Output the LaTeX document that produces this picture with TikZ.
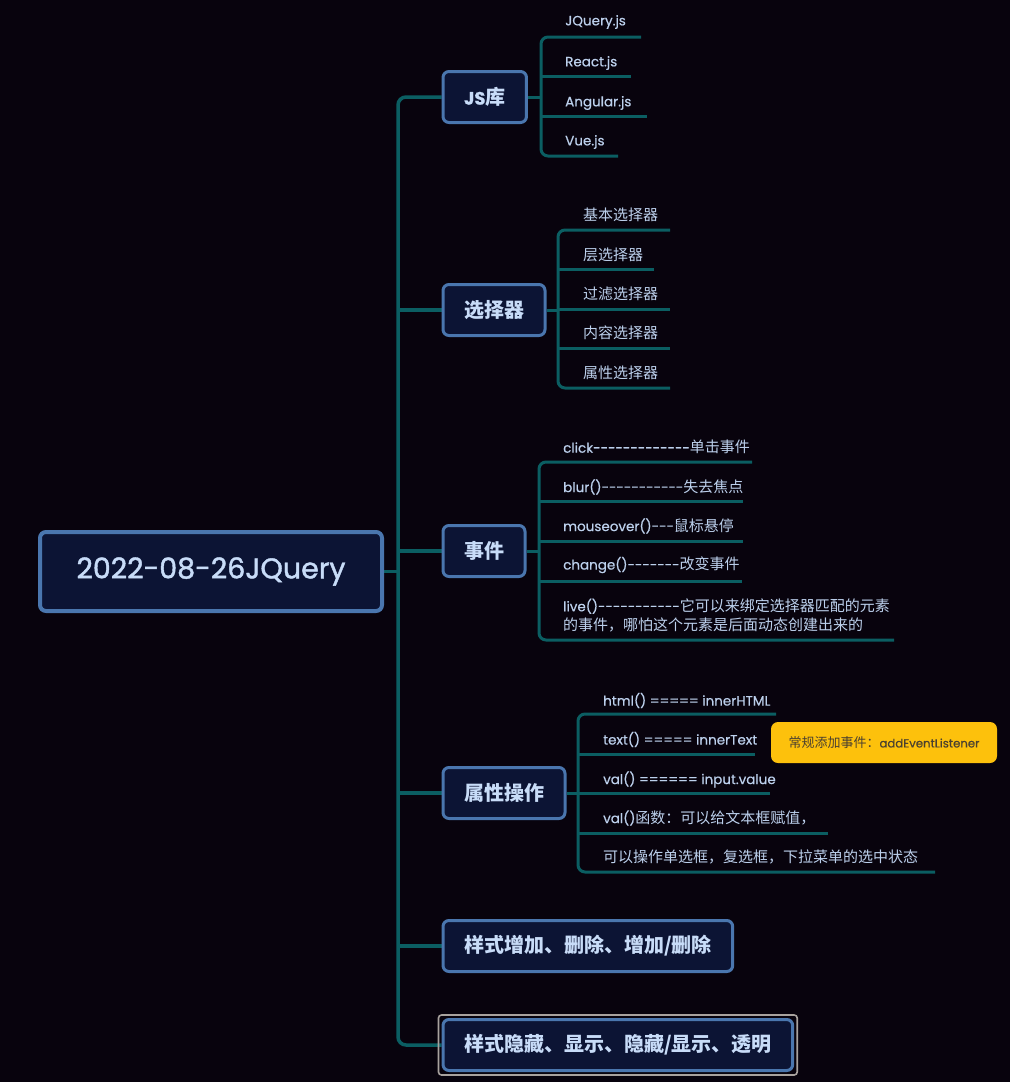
\documentclass[tikz,border=0pt]{standalone}
\usepackage{fontspec}
\setmainfont{Noto Sans CJK SC}[Ligatures=TeXOff]
\newfontfamily\lat{Poppins}[Ligatures=TeXOff, Scale=0.9, FakeBold=0.5]
\newfontfamily\latroot{Poppins}[Ligatures=TeXOff, FakeBold=1.4]
\usetikzlibrary{fit,backgrounds}
\definecolor{bg}{HTML}{08030D}
\definecolor{teal}{HTML}{0B5E62}
\definecolor{boxfill}{HTML}{0C1434}
\definecolor{boxborder}{HTML}{4A76AE}
\definecolor{txt}{HTML}{C8DCF8}
\definecolor{leaftxt}{HTML}{BCD0EC}
\definecolor{amber}{HTML}{FDC10C}
\definecolor{amtxt}{HTML}{4A4030}
\definecolor{selgray}{HTML}{A8A29E}
\tikzset{
  rootbox/.style={draw=boxborder, line width=4pt, fill=boxfill, rounded corners=6pt,
    minimum width=342, minimum height=79, text=txt, inner sep=0pt,
    font=\latroot\fontsize{28.5}{32}\selectfont},
  topic/.style={draw=boxborder, line width=3pt, fill=boxfill, rounded corners=6pt,
    minimum height=51, inner xsep=21pt, text=txt, anchor=west,
    font=\bfseries\fontsize{20}{24}\selectfont},
  leaf/.style={anchor=west, inner sep=0pt, text=leaftxt, align=left,
    font=\fontsize{15}{19.5}\selectfont},
  branch/.style={draw=teal, line width=3pt},
  trunkline/.style={draw=teal, line width=3.5pt},
  callout/.style={fill=amber, rounded corners=7pt, minimum width=226, minimum height=41,
    text=amtxt, inner sep=0pt, font=\fontsize{13}{16}\selectfont},
  selframe/.style={draw=selgray, line width=1.6pt, rounded corners=3pt, inner sep=3pt}
}
\begin{document}
\begin{tikzpicture}[x=1pt,y=-1pt]
\useasboundingbox (0,0) rectangle (1010,1082);
% root and topics
\node[rootbox] (root) at (211,571.5) {2022-08-26JQuery};
\coordinate (trunk) at (398,571.5);
\node[topic] (js) at (441.5,97) {{\lat\bfseries JS}库};
\node[topic] (sel) at (441.5,310) {选择器};
\node[topic] (evt) at (441.5,551) {事件};
\node[topic] (attr) at (441.5,793) {属性操作};
\node[topic] (sty1) at (441.5,946) {样式增加、删除、增加/删除};
\node[topic] (sty2) at (441.5,1045) {样式隐藏、显示、隐藏/显示、透明};
\node[selframe, fit=(sty2)] (selbox) {};
% JS library leaves
\coordinate (jsv) at (541,97);
\node[leaf] (j1) at (565,22) {\lat JQuery.js};   \coordinate (j1e) at (641,37);
\node[leaf] (j2) at (565,63) {\lat React.js};    \coordinate (j2e) at (631,76);
\node[leaf] (j3) at (565,103) {\lat Angular.js}; \coordinate (j3e) at (647,116);
\node[leaf] (j4) at (565,142) {\lat Vue.js};     \coordinate (j4e) at (618,156);
% selectors
\coordinate (selv) at (558,310);
\node[leaf] (s1) at (583,215) {基本选择器}; \coordinate (s1e) at (670,230);
\node[leaf] (s2) at (583,255) {层选择器};   \coordinate (s2e) at (654,269);
\node[leaf] (s3) at (583,294) {过滤选择器}; \coordinate (s3e) at (670,309);
\node[leaf] (s4) at (583,333) {内容选择器}; \coordinate (s4e) at (670,348);
\node[leaf] (s5) at (583,373) {属性选择器}; \coordinate (s5e) at (670,388);
% events
\coordinate (evtv) at (539,551);
\node[leaf] (e1) at (563,447) {{\lat click-------------}单击事件}; \coordinate (e1e) at (752,462);
\node[leaf] (e2) at (563,487) {{\lat blur()-----------}失去焦点}; \coordinate (e2e) at (743,501);
\node[leaf] (e3) at (563,526) {{\lat mouseover()---}鼠标悬停}; \coordinate (e3e) at (743,541);
\node[leaf] (e4) at (563,565) {{\lat change()-------}改变事件}; \coordinate (e4e) at (742,581);
\node[leaf] (e5) at (563,615.5) {{\lat live()-----------}它可以来绑定选择器匹配的元素\\的事件，哪怕这个元素是后面动态创建出来的}; \coordinate (e5e) at (894,640);
% attribute operations
\coordinate (attrv) at (578,793);
\node[leaf] (a1) at (603,700.5) {\lat html() ===== innerHTML}; \coordinate (a1e) at (776,714);
\node[leaf] (a2) at (603,739.5) {\lat text() ===== innerText}; \coordinate (a2e) at (755,754);
\node[leaf] (a3) at (603,779.5) {\lat val() ====== input.value}; \coordinate (a3e) at (770,793);
\node[leaf] (a4) at (603,818) {{\lat val()}函数：可以给文本框赋值，}; \coordinate (a4e) at (828,833);
\node[leaf] (a5) at (603,857) {可以操作单选框，复选框，下拉菜单的选中状态}; \coordinate (a5e) at (935,872);
\node[callout] (note) at (884,742.5) {常规添加事件：{\lat addEventListener}};
% connectors
\begin{scope}[on background layer]
\fill[bg] (0,0) rectangle (1010,1082);
\draw[trunkline] (root.east) -- (trunk);
\draw[trunkline, rounded corners=8pt] (js.west) -| (trunk) |- (sty2.west);
\draw[trunkline] (sel.west -| trunk) -- (sel.west);
\draw[trunkline] (evt.west -| trunk) -- (evt.west);
\draw[trunkline] (attr.west -| trunk) -- (attr.west);
\draw[trunkline] (sty1.west -| trunk) -- (sty1.west);
% JS
\draw[branch] (js.east) -- (js.east -| jsv);
\draw[branch, rounded corners=7pt] (j1e) -- (j1e -| jsv) -- (j4e -| jsv) -- (j4e);
\draw[branch] (j2e -| jsv) -- (j2e);
\draw[branch] (j3e -| jsv) -- (j3e);
% selectors
\draw[branch] (sel.east) -- (sel.east -| selv);
\draw[branch, rounded corners=7pt] (s1e) -- (s1e -| selv) -- (s5e -| selv) -- (s5e);
\draw[branch] (s2e -| selv) -- (s2e);
\draw[branch] (s3e -| selv) -- (s3e);
\draw[branch] (s4e -| selv) -- (s4e);
% events
\draw[branch] (evt.east) -- (evt.east -| evtv);
\draw[branch, rounded corners=7pt] (e1e) -- (e1e -| evtv) -- (e5e -| evtv) -- (e5e);
\draw[branch] (e2e -| evtv) -- (e2e);
\draw[branch] (e3e -| evtv) -- (e3e);
\draw[branch] (e4e -| evtv) -- (e4e);
% attributes
\draw[branch] (attr.east) -- (attr.east -| attrv);
\draw[branch, rounded corners=7pt] (a1e) -- (a1e -| attrv) -- (a5e -| attrv) -- (a5e);
\draw[branch] (a2e -| attrv) -- (a2e);
\draw[branch] (a3e -| attrv) -- (a3e);
\draw[branch] (a4e -| attrv) -- (a4e);
\end{scope}
\end{tikzpicture}
\end{document}
